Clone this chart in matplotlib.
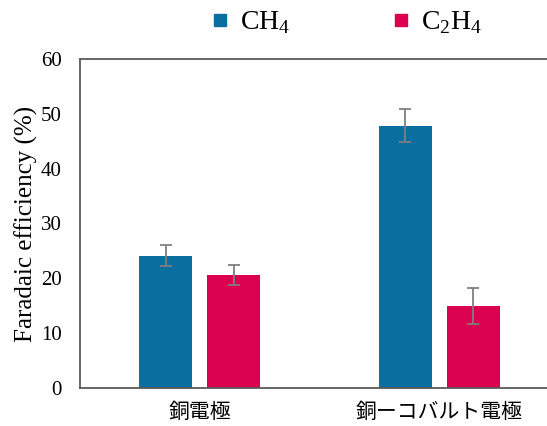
import numpy as np
import matplotlib
matplotlib.use('Agg')
import matplotlib.pyplot as plt
from matplotlib.lines import Line2D

plt.rcParams['font.family'] = ['Liberation Serif', 'Noto Sans CJK JP']
plt.rcParams['mathtext.fontset'] = 'custom'
plt.rcParams['mathtext.rm'] = 'Liberation Serif'

# data
categories = ['銅電極', '銅ーコバルト電極']
ch4 = [24.1, 47.8]
ch4_err = [1.9, 3.0]
c2h4 = [20.6, 15.0]
c2h4_err = [1.8, 3.3]

blue = '#0a6e9e'
red = '#dc0050'

fig = plt.figure(figsize=(5.47, 4.26), dpi=100)
# axes box runs past the right edge of the picture
ax = fig.add_axes([80/547, 38/426, 479/547, 329/426])

x = np.arange(len(categories))
w = 0.221
off = 0.142
ebar = dict(ecolor='#7f7f7f', elinewidth=1.3, capsize=4.5, capthick=1.3)
ax.bar(x - off, ch4, w, yerr=ch4_err, color=blue, error_kw=ebar)
ax.bar(x + off, c2h4, w, yerr=c2h4_err, color=red, error_kw=ebar)

ax.set_xlim(-0.5, 1.5)
ax.set_ylim(0, 60)
ax.set_yticks(np.arange(0, 61, 10))
ax.set_xticks(x)
ax.set_xticklabels(categories, family='Noto Sans CJK JP', fontsize=15)
ax.tick_params(axis='both', length=0)
ax.tick_params(axis='y', labelsize=15, pad=13)
ax.tick_params(axis='x', pad=9)
ax.set_ylabel('Faradaic efficiency (%)', fontsize=18, labelpad=2)

for s in ax.spines.values():
    s.set_color('#595959')
    s.set_linewidth(1.3)

handles = [Line2D([], [], marker='s', ls='none', color=blue, markersize=8),
           Line2D([], [], marker='s', ls='none', color=red, markersize=8)]
fig.legend(handles, ['CH$_4$', 'C$_2$H$_4$'], loc='center',
           bbox_to_anchor=(347/547, 1 - 23/426), ncol=2, frameon=False,
           fontsize=20, handlelength=0.6, handletextpad=0.4, columnspacing=3.7)

fig.savefig('out.png', dpi=100)
